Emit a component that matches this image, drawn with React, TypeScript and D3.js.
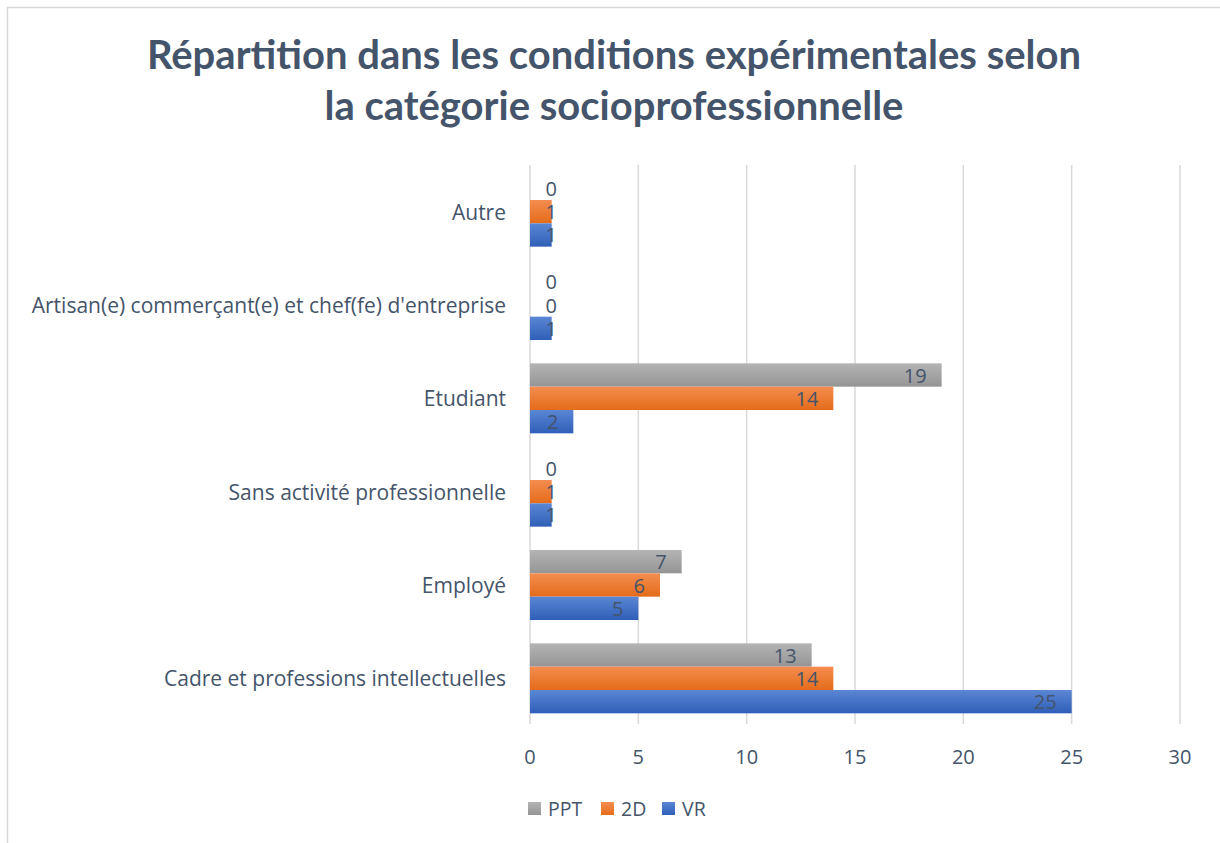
import React from "react";
import * as d3 from "d3";

const categories = [
  "Cadre et professions intellectuelles",
  "Employé",
  "Sans activité professionnelle",
  "Etudiant",
  "Artisan(e) commerçant(e) et chef(fe) d'entreprise",
  "Autre",
];
const seriesNames = ["PPT", "2D", "VR"];
const pptValues = [13, 7, 0, 19, 0, 0];
const twoDValues = [14, 6, 1, 14, 0, 1];
const vrValues = [25, 5, 1, 2, 1, 1];
const xTicks = [0, 5, 10, 15, 20, 25, 30];
const titleLines = [
  "Répartition dans les conditions expérimentales selon",
  "la catégorie socioprofessionnelle",
];

const seriesValues: Record<string, number[]> = { PPT: pptValues, "2D": twoDValues, VR: vrValues };
const colors: Record<string, [string, string]> = {
  PPT: ["#b4b4b4", "#959595"],
  "2D": ["#f48d4f", "#e46c1a"],
  VR: ["#5b86d4", "#2f5fb8"],
};

const TITLE_FONT = "Lato, Carlito, sans-serif";
const FONT = "'Open Sans', 'Noto Sans', sans-serif";
const TEXT = "#44546A";

export default function App() {
  const W = 1220, H = 843;
  const x = d3.scaleLinear().domain([0, 30]).range([530, 1180]);
  const topToBottom = [...categories].reverse();
  const y = d3.scaleBand<string>().domain(topToBottom).range([165, 725]).paddingInner(0.25).paddingOuter(0.125);
  const yi = d3.scaleBand<string>().domain(seriesNames).range([0, y.bandwidth()]);

  return (
    <svg width={W} height={H} style={{ position: "absolute", left: 0, top: 0 }} fontFamily={FONT}>
      <defs>
        {seriesNames.map((s) => (
          <linearGradient key={s} id={`g${s}`} x1="0" y1="0" x2="0" y2="1">
            <stop offset="0" stopColor={colors[s][0]} />
            <stop offset="1" stopColor={colors[s][1]} />
          </linearGradient>
        ))}
      </defs>
      <rect x={0} y={0} width={W} height={H} fill="#fff" />
      <rect x={7.5} y={7.5} width={W + 20} height={H + 20} fill="none" stroke="#D9D9D9" strokeWidth={1.5} />
      {titleLines.map((t, i) => (
        <text key={i} x={614} y={69 + i * 51} textAnchor="middle" fontSize={40} fontWeight={700} fill={TEXT} fontFamily={TITLE_FONT}>
          {t}
        </text>
      ))}
      {xTicks.map((t) => (
        <g key={t}>
          <line x1={x(t)} x2={x(t)} y1={165} y2={724} stroke="#D9D9D9" strokeWidth={1.5} />
          <text x={x(t)} y={764} textAnchor="middle" fontSize={20} fill={TEXT}>
            {t}
          </text>
        </g>
      ))}
      {categories.map((c, ci) => (
        <g key={c} transform={`translate(0,${y(c)})`}>
          <text x={506} y={y.bandwidth() / 2 + 8} textAnchor="end" fontSize={21} fill={TEXT}>
            {c}
          </text>
          {seriesNames.map((s) => {
            const v = seriesValues[s][ci];
            const by = yi(s)!;
            const bh = yi.bandwidth();
            const lx = Math.max(x(v) - 15, x(0) + 27);
            return (
              <g key={s}>
                {v > 0 && <rect x={x(0)} y={by} width={x(v) - x(0)} height={bh} fill={`url(#g${s})`} />}
                <text x={lx} y={by + bh / 2 + 7.5} textAnchor="end" fontSize={20} fill={TEXT}>
                  {v}
                </text>
              </g>
            );
          })}
        </g>
      ))}
      {seriesNames.map((s, i) => {
        const lx = [528, 601, 662][i];
        return (
          <g key={s}>
            <rect x={lx} y={802} width={13} height={13} fill={`url(#g${s})`} />
            <text x={lx + 20} y={815.5} fontSize={19.5} fill={TEXT}>
              {s}
            </text>
          </g>
        );
      })}
    </svg>
  );
}
